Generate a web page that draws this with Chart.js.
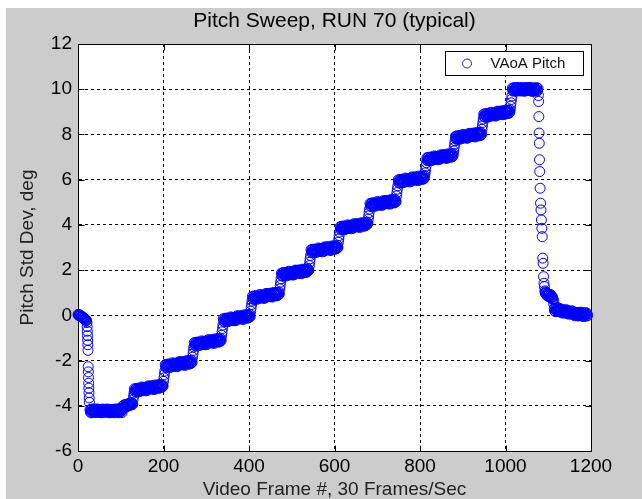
<!DOCTYPE html>
<html><head><meta charset="utf-8">
<script src="https://cdn.jsdelivr.net/npm/chart.js@4.4.1/dist/chart.umd.min.js"></script>
<style>
html,body{margin:0;padding:0;background:#fff;}
#wrap{position:absolute;left:6px;top:8px;width:636px;height:491px;background:#cccccc;}
canvas{display:block;}
</style></head><body>
<div id="wrap"><canvas id="c" width="636" height="491"></canvas></div>
<script>
const titleText = 'Pitch Sweep, RUN 70 (typical)';
const xTitle = 'Video Frame #, 30 Frames/Sec';
const yTitle = 'Pitch Std Dev, deg';
const legendLabel = 'VAoA Pitch';
const xTicks = [0,200,400,600,800,1000,1200];
const yTicks = [-6,-4,-2,0,2,4,6,8,10,12];

// pitch (deg) sampled once per video frame; array index = frame number (0..1192), null = no sample
const pitchByFrame = [
 0.04,0.01,0.03,-0.02,0.02,-0.03,-0.01,-0.06,-0.04,-0.08,-0.06,-0.11,-0.09,-0.13,-0.12,-0.16,-0.15,-0.19,-0.18,-0.22,-0.24,
 null,null,null,null,null,null,null,
 -4.17,-4.28,-4.20,-4.31,-4.15,-4.24,-4.29,-4.18,-4.26,-4.14,-4.23,-4.30,-4.16,-4.21,-4.27,-4.19,
 -4.26,-4.14,-4.23,-4.30,-4.16,-4.21,-4.27,-4.19,-4.17,-4.28,-4.20,-4.31,-4.15,-4.24,-4.29,-4.18,
 -4.15,-4.24,-4.29,-4.18,-4.16,-4.21,-4.27,-4.19,-4.26,-4.14,-4.23,-4.30,-4.17,-4.28,-4.20,-4.31,
 -4.30,-4.16,-4.21,-4.27,-4.19,-4.17,-4.28,-4.20,-4.31,-4.15,-4.24,-4.29,-4.18,-4.26,-4.14,-4.23,
 -4.17,-4.28,-4.20,-4.31,-4.15,-4.24,-4.29,-4.18,-4.26,-4.14,-4.23,-4.30,-4.16,
 -4.00,-4.08,-3.98,-4.05,-3.95,-4.03,-4.06,-3.97,-3.94,-4.04,-3.99,-3.92,-4.01,-3.96,-3.90,-3.99,-3.93,-3.88,-3.97,-3.91,-3.86,-3.95,-3.89,-3.93,
 -3.72,-3.58,-3.44,
 -3.25,-3.36,-3.28,-3.39,-3.23,-3.32,-3.37,-3.26,-3.34,-3.22,-3.31,-3.38,-3.24,-3.29,-3.35,-3.27,
 -3.29,-3.17,-3.26,-3.33,-3.19,-3.24,-3.30,-3.22,-3.20,-3.31,-3.23,-3.34,-3.18,-3.27,-3.32,-3.21,
 -3.12,-3.21,-3.26,-3.15,-3.13,-3.18,-3.24,-3.16,-3.23,-3.11,-3.20,-3.27,-3.14,-3.25,-3.17,-3.28,
 -3.22,-3.08,-3.13,-3.19,-3.11,-3.09,-3.20,-3.12,-3.23,-3.07,-3.16,-3.21,-3.10,-3.18,-3.06,-3.15,
 -3.10,-3.17,-3.08,-3.13,
 -2.92,-2.77,-2.62,-2.47,
 -2.18,-2.29,-2.21,-2.32,-2.16,-2.25,-2.30,-2.19,-2.27,-2.15,-2.24,-2.31,-2.17,-2.22,-2.28,-2.20,
 -2.22,-2.10,-2.19,-2.26,-2.12,-2.17,-2.23,-2.15,-2.13,-2.24,-2.16,-2.27,-2.11,-2.20,-2.25,-2.14,
 -2.05,-2.14,-2.19,-2.08,-2.06,-2.11,-2.17,-2.09,-2.16,-2.04,-2.13,-2.20,-2.07,-2.18,-2.10,-2.21,
 -2.15,-2.01,-2.06,-2.12,-2.04,-2.02,-2.13,-2.05,-2.16,-2.00,-2.09,-2.14,-2.03,-2.11,-1.99,-2.08,
 -1.85,-1.70,-1.55,-1.40,
 -1.21,-1.32,-1.24,-1.35,-1.19,-1.28,-1.33,-1.22,-1.30,-1.18,-1.27,-1.34,-1.20,-1.25,-1.31,-1.23,
 -1.25,-1.13,-1.22,-1.29,-1.15,-1.20,-1.26,-1.18,-1.16,-1.27,-1.19,-1.30,-1.14,-1.23,-1.28,-1.17,
 -1.08,-1.17,-1.22,-1.11,-1.09,-1.14,-1.20,-1.12,-1.19,-1.07,-1.16,-1.23,-1.10,-1.21,-1.13,-1.24,
 -1.18,-1.04,-1.09,-1.15,-1.07,-1.05,-1.16,-1.08,-1.19,-1.03,-1.12,-1.17,-1.06,-1.14,-1.02,-1.11,
 -0.88,-0.73,-0.58,-0.43,
 -0.15,-0.26,-0.18,-0.29,-0.13,-0.22,-0.27,-0.16,-0.24,-0.12,-0.21,-0.28,-0.14,-0.19,-0.25,-0.17,
 -0.19,-0.07,-0.16,-0.23,-0.09,-0.14,-0.20,-0.12,-0.10,-0.21,-0.13,-0.24,-0.08,-0.17,-0.22,-0.11,
 -0.02,-0.11,-0.16,-0.05,-0.03,-0.08,-0.14,-0.06,-0.13,-0.01,-0.10,-0.17,-0.04,-0.15,-0.07,-0.18,
 -0.12,0.02,-0.03,-0.09,-0.01,0.01,-0.10,-0.02,-0.13,0.03,-0.06,-0.11,0.00,-0.08,0.04,-0.05,
 0.18,0.33,0.48,0.63,
 0.84,0.73,0.81,0.70,0.86,0.77,0.72,0.83,0.75,0.87,0.78,0.71,0.85,0.80,0.74,0.82,
 0.80,0.92,0.83,0.76,0.90,0.85,0.79,0.87,0.89,0.78,0.86,0.75,0.91,0.82,0.77,0.88,
 0.97,0.88,0.83,0.94,0.96,0.91,0.85,0.93,0.86,0.98,0.89,0.82,0.95,0.84,0.92,0.81,
 0.87,1.01,0.96,0.90,0.98,1.00,0.89,0.97,0.86,1.02,0.93,0.88,0.99,0.91,1.03,0.94,
 1.17,1.32,1.47,1.62,
 1.87,1.76,1.84,1.73,1.89,1.80,1.75,1.86,1.78,1.90,1.81,1.74,1.88,1.83,1.77,1.85,
 1.83,1.95,1.86,1.79,1.93,1.88,1.82,1.90,1.92,1.81,1.89,1.78,1.94,1.85,1.80,1.91,
 2.00,1.91,1.86,1.97,1.99,1.94,1.88,1.96,1.89,2.01,1.92,1.85,1.98,1.87,1.95,1.84,
 1.90,2.04,1.99,1.93,2.01,2.03,1.92,2.00,1.89,2.05,1.96,1.91,2.02,1.94,2.06,1.97,
 2.00,
 2.20,2.35,2.50,2.65,
 2.90,2.79,2.87,2.76,2.92,2.83,2.78,2.89,2.81,2.93,2.84,2.77,2.91,2.86,2.80,2.88,
 2.86,2.98,2.89,2.82,2.96,2.91,2.85,2.93,2.95,2.84,2.92,2.81,2.97,2.88,2.83,2.94,
 3.03,2.94,2.89,3.00,3.02,2.97,2.91,2.99,2.92,3.04,2.95,2.88,3.01,2.90,2.98,2.87,
 2.93,3.07,3.02,2.96,3.04,3.06,2.95,3.03,2.92,3.08,2.99,2.94,3.05,2.97,3.09,3.00,
 3.23,3.38,3.53,3.68,
 3.92,3.81,3.89,3.78,3.94,3.85,3.80,3.91,3.83,3.95,3.86,3.79,3.93,3.88,3.82,3.90,
 3.88,4.00,3.91,3.84,3.98,3.93,3.87,3.95,3.97,3.86,3.94,3.83,3.99,3.90,3.85,3.96,
 4.05,3.96,3.91,4.02,4.04,3.99,3.93,4.01,3.94,4.06,3.97,3.90,4.03,3.92,4.00,3.89,
 3.95,4.09,4.04,3.98,4.06,4.08,3.97,4.05,3.94,4.10,4.01,3.96,4.07,3.99,4.11,4.02,
 4.03,4.08,
 4.25,4.40,4.55,4.70,
 4.95,4.84,4.92,4.81,4.97,4.88,4.83,4.94,4.86,4.98,4.89,4.82,4.96,4.91,4.85,4.93,
 4.91,5.03,4.94,4.87,5.01,4.96,4.90,4.98,5.00,4.89,4.97,4.86,5.02,4.93,4.88,4.99,
 5.08,4.99,4.94,5.05,5.07,5.02,4.96,5.04,4.97,5.09,5.00,4.93,5.06,4.95,5.03,4.92,
 4.98,5.12,5.07,5.01,5.09,5.11,5.00,5.08,4.97,5.13,5.04,4.99,5.10,5.02,
 5.28,5.43,5.58,5.73,
 5.99,5.88,5.96,5.85,6.01,5.92,5.87,5.98,5.90,6.02,5.93,5.86,6.00,5.95,5.89,5.97,
 5.95,6.07,5.98,5.91,6.05,6.00,5.94,6.02,6.04,5.93,6.01,5.90,6.06,5.97,5.92,6.03,
 6.12,6.03,5.98,6.09,6.11,6.06,6.00,6.08,6.01,6.13,6.04,5.97,6.10,5.99,6.07,5.96,
 6.02,6.16,6.11,6.05,6.13,6.15,6.04,6.12,6.01,6.17,6.08,6.03,6.14,6.06,6.18,
 6.30,6.45,6.60,6.75,
 6.97,6.86,6.94,6.83,6.99,6.90,6.85,6.96,6.88,7.00,6.91,6.84,6.98,6.93,6.87,6.95,
 6.93,7.05,6.96,6.89,7.03,6.98,6.92,7.00,7.02,6.91,6.99,6.88,7.04,6.95,6.90,7.01,
 7.10,7.01,6.96,7.07,7.09,7.04,6.98,7.06,6.99,7.11,7.02,6.95,7.08,6.97,7.05,6.94,
 7.00,7.14,7.09,7.03,7.11,7.13,7.02,7.10,6.99,7.15,7.06,7.01,7.12,7.04,7.16,
 7.27,7.42,7.57,7.72,
 7.92,7.81,7.89,7.78,7.94,7.85,7.80,7.91,7.83,7.95,7.86,7.79,7.93,7.88,7.82,7.90,
 7.88,8.00,7.91,7.84,7.98,7.93,7.87,7.95,7.97,7.86,7.94,7.83,7.99,7.90,7.85,7.96,
 8.05,7.96,7.91,8.02,8.04,7.99,7.93,8.01,7.94,8.06,7.97,7.90,8.03,7.92,8.00,7.89,
 7.95,8.09,8.04,7.98,8.06,8.08,7.97,8.05,7.94,8.10,8.01,7.96,8.07,7.99,
 8.23,8.38,8.53,8.68,
 8.90,8.79,8.87,8.76,8.92,8.83,8.78,8.89,8.81,8.93,8.84,8.77,8.91,8.86,8.80,8.88,
 8.86,8.98,8.89,8.82,8.96,8.91,8.85,8.93,8.95,8.84,8.92,8.81,8.97,8.88,8.83,8.94,
 9.03,8.94,8.89,9.00,9.02,8.97,8.91,8.99,8.92,9.04,8.95,8.88,9.01,8.90,8.98,8.87,
 8.93,9.07,9.02,8.96,9.04,9.06,8.95,9.03,8.92,9.08,8.99,8.94,9.05,8.97,9.09,
 9.25,9.40,9.55,9.70,
 10.05,9.94,10.02,9.91,10.07,9.98,9.93,10.04,9.96,10.08,9.99,9.92,10.06,10.01,9.95,10.03,
 9.96,10.08,9.99,9.92,10.06,10.01,9.95,10.03,10.05,9.94,10.02,9.91,10.07,9.98,9.93,10.04,
 10.07,9.98,9.93,10.04,10.06,10.01,9.95,10.03,9.96,10.08,9.99,9.92,10.05,9.94,10.02,9.91,
 9.92,10.06,10.01,9.95,10.03,10.05,9.94,10.02,9.91,10.07,9.98,9.93,10.04,
 null,null,null,null,null,null,null,null,null,null,null,null,null,null,null,
 1.08,0.98,1.04,0.93,1.00,0.88,0.97,0.85,0.95,0.90,0.82,0.93,0.86,0.80,0.91,0.78,0.85,0.74,0.81,0.72,0.68,
 0.50,
 0.30,0.19,0.27,0.16,0.32,0.23,0.18,0.29,0.21,0.33,0.24,0.17,0.31,0.26,0.20,0.28,
 0.14,0.26,0.17,0.10,0.24,0.19,0.13,0.21,0.23,0.12,0.20,0.09,0.25,0.16,0.11,0.22,
 0.19,0.10,0.05,0.16,0.18,0.13,0.07,0.15,0.08,0.20,0.11,0.04,0.17,0.06,0.14,0.03,
 -0.02,0.12,0.07,0.01,0.09,0.11,0.00,0.08,-0.03,0.13,0.04,-0.01,0.10,0.02,0.14,0.05,
 0.09,-0.02,0.06,-0.05,0.11,0.02,-0.03,0.08,0.00,0.12,0.03,-0.04,0.10,0.05,-0.01
];

// the two fast drops, where samples fall between whole frame numbers
const dropFrame = [
 21,21.4,21.8,22.2,22.6,23,23.4,23.8,24.2,24.6,25,25.4,25.8,26.2,26.6,
 1077,1077.5,1078,1078.5,1079,1079.5,1080,1081,1082,1083,1084,1085,1086,1087,1088,1089,1090,1091
];
const dropPitch = [
 -0.32,-0.5,-0.7,-0.9,-1.1,-1.3,-1.55,-2.27,-2.5,-2.75,-3.0,-3.22,-3.42,-3.65,-3.85,
 9.72,9.46,8.79,8.06,7.61,6.88,6.36,5.62,4.96,4.66,4.22,3.85,3.48,2.53,2.30,1.71,1.42,1.27
];

const F = '"Liberation Sans", Arial, Helvetica, sans-serif';
const points = [];
pitchByFrame.forEach((v, f) => { if (v !== null) points.push({x: f, y: v}); });
dropFrame.forEach((f, i) => { if (i < dropPitch.length) points.push({x: f, y: dropPitch[i]}); });

const frameBox = {
  id: 'frameBox',
  beforeDraw(chart) {
    const {ctx, chartArea: a} = chart;
    ctx.save();
    ctx.fillStyle = '#ffffff';
    ctx.fillRect(a.left, a.top, a.right - a.left, a.bottom - a.top);
    ctx.restore();
  },
  beforeDatasetsDraw(chart) {
    const {ctx, chartArea: a, scales: {x, y}} = chart;
    const L = Math.round(a.left) + 0.5, R = Math.round(a.right) + 0.5;
    const T = Math.round(a.top) + 0.5, B = Math.round(a.bottom) + 0.5;
    ctx.save();
    ctx.strokeStyle = '#000';
    ctx.lineWidth = 1;
    ctx.setLineDash([]);
    ctx.strokeRect(L, T, R - L, B - T);
    const tl = 6;
    ctx.beginPath();
    xTicks.forEach(v => {
      const p = Math.round(x.getPixelForValue(v)) + 0.5;
      ctx.moveTo(p, B); ctx.lineTo(p, B - tl);
      ctx.moveTo(p, T); ctx.lineTo(p, T + tl);
    });
    yTicks.forEach(v => {
      const p = Math.round(y.getPixelForValue(v)) + 0.5;
      ctx.moveTo(L, p); ctx.lineTo(L + tl, p);
      ctx.moveTo(R, p); ctx.lineTo(R - tl, p);
    });
    ctx.stroke();
    ctx.restore();
  },
  afterDatasetsDraw(chart) {
    const {ctx, chartArea: a} = chart;
    const bx = Math.round(a.right) - 146 + 0.5, by = Math.round(a.top) + 7 + 0.5;
    const bw = 138, bh = 24;
    ctx.save();
    ctx.fillStyle = '#ffffff';
    ctx.fillRect(bx, by, bw, bh);
    ctx.strokeStyle = '#000';
    ctx.lineWidth = 1;
    ctx.strokeRect(bx, by, bw, bh);
    ctx.beginPath();
    ctx.arc(bx + 21.5, by + 12, 4.5, 0, Math.PI * 2);
    ctx.strokeStyle = '#2020c0';
    ctx.stroke();
    ctx.fillStyle = '#111';
    ctx.font = '15px ' + F;
    ctx.textBaseline = 'middle';
    ctx.textAlign = 'left';
    ctx.fillText(legendLabel, bx + 45, by + 12.5);
    ctx.restore();
  }
};

new Chart(document.getElementById('c'), {
  type: 'scatter',
  data: {
    datasets: [{
      label: legendLabel,
      data: points,
      pointStyle: 'circle',
      pointRadius: 5,
      pointBorderWidth: 1,
      borderColor: '#0000ff',
      pointBorderColor: '#0000ff',
      backgroundColor: 'rgba(0,0,0,0)',
      pointBackgroundColor: 'rgba(0,0,0,0)',
      showLine: false,
      clip: false
    }]
  },
  options: {
    responsive: false,
    animation: false,
    events: [],
    layout: {padding: {left: 0, right: 51, top: 0, bottom: 0}},
    plugins: {
      legend: {display: false},
      tooltip: {enabled: false},
      title: {
        display: true, text: titleText, fullSize: false, color: '#000',
        font: {family: F, size: 21, weight: 'normal', lineHeight: 1.2},
        padding: {top: 1, bottom: 9.8}
      }
    },
    scales: {
      x: {
        type: 'linear', min: xTicks[0], max: xTicks[xTicks.length - 1],
        afterBuildTicks: s => { s.ticks = xTicks.map(v => ({value: v})); },
        afterFit: s => { s.height = 48; },
        grid: {color: '#000', lineWidth: 1, drawTicks: false},
        border: {display: true, color: '#000', width: 1, dash: [3, 3]},
        ticks: {color: '#000', font: {family: F, size: 19}, padding: 4, maxRotation: 0, autoSkip: false, callback: v => String(v)},
        title: {display: true, text: xTitle, color: '#222', font: {family: F, size: 19, lineHeight: 1}, padding: {top: 0, bottom: 0}}
      },
      y: {
        type: 'linear', min: yTicks[0], max: yTicks[yTicks.length - 1],
        afterBuildTicks: s => { s.ticks = yTicks.map(v => ({value: v})); },
        afterFit: s => { s.width = 72; },
        grid: {color: '#000', lineWidth: 1, drawTicks: false},
        border: {display: true, color: '#000', width: 1, dash: [3, 3]},
        ticks: {color: '#000', font: {family: F, size: 19}, padding: 6, autoSkip: false, callback: v => String(v)},
        title: {display: true, text: yTitle, color: '#222', font: {family: F, size: 19, lineHeight: 1}, padding: {top: 12, bottom: 0}}
      }
    }
  },
  plugins: [frameBox]
});
</script>
</body></html>
